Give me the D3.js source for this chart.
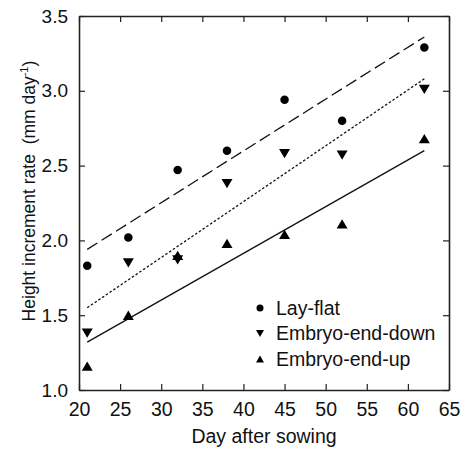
<!DOCTYPE html>
<html lang="en">
<head>
  <meta charset="UTF-8">
  <title>Height increment rate</title>
  <script src="https://d3js.org/d3.v7.min.js"></script>
  <style>
    body { margin: 0; background: #fff; }
    text { font-family: "Liberation Sans", Arial, sans-serif; fill: #111; }
  </style>
</head>
<body>
  <div id="chart"></div>
  <script>
    // data
    const days = [21, 26, 32, 38, 45, 52, 62];
    const layFlat = [1.83, 2.02, 2.47, 2.60, 2.94, 2.80, 3.29];
    const embryoDown = [1.38, 1.85, 1.87, 2.38, 2.58, 2.57, 3.01];
    const embryoUp = [1.16, 1.50, 1.90, 1.98, 2.04, 2.11, 2.68];
    // fitted lines (value at day 21 and day 62)
    const fitDays = [21, 62];
    const fitLayFlat = [1.94, 3.36];
    const fitDown = [1.55, 3.08];
    const fitUp = [1.32, 2.60];
    const xTicks = [20, 25, 30, 35, 40, 45, 50, 55, 60, 65];
    const yTicks = [1.0, 1.5, 2.0, 2.5, 3.0, 3.5];

    const width = 462, height = 451;
    const margin = { top: 16, right: 13, bottom: 61, left: 79 };

    const svg = d3.select("#chart").append("svg")
      .attr("width", width)
      .attr("height", height);

    const x = d3.scaleLinear().domain([20, 65]).range([margin.left, width - margin.right]);
    const y = d3.scaleLinear().domain([1.0, 3.5]).range([height - margin.bottom, margin.top]);

    // frame with inward ticks on all sides
    const axisStyle = g => {
      g.select(".domain").attr("stroke", "#222").attr("stroke-width", 1.6);
      g.selectAll(".tick line").attr("stroke", "#222").attr("stroke-width", 1.2);
    };

    svg.append("g")
      .attr("transform", `translate(0,${y(1.0)})`)
      .call(d3.axisBottom(x).tickValues(xTicks).tickSize(-6).tickPadding(12).tickSizeOuter(0))
      .call(axisStyle)
      .call(g => g.selectAll(".tick text").attr("font-size", 19.5).attr("dy", "0.71em"));

    svg.append("g")
      .attr("transform", `translate(0,${y(3.5)})`)
      .call(d3.axisTop(x).tickValues(xTicks).tickSize(-6).tickFormat("").tickSizeOuter(0))
      .call(axisStyle);

    svg.append("g")
      .attr("transform", `translate(${x(20)},0)`)
      .call(d3.axisLeft(y).tickValues(yTicks).tickSize(-6).tickPadding(11).tickFormat(d3.format(".1f")).tickSizeOuter(0))
      .call(axisStyle)
      .call(g => g.selectAll(".tick text").attr("font-size", 19));

    svg.append("g")
      .attr("transform", `translate(${x(65)},0)`)
      .call(d3.axisRight(y).tickValues(yTicks).tickSize(-6).tickFormat("").tickSizeOuter(0))
      .call(axisStyle);

    // fitted lines
    const series = [
      { name: "Lay-flat", vals: layFlat, fit: fitLayFlat, dash: "12,5", sym: d3.symbolCircle },
      { name: "Embryo-end-down", vals: embryoDown, fit: fitDown, dash: "2.5,2", sym: "down" },
      { name: "Embryo-end-up", vals: embryoUp, fit: fitUp, dash: null, sym: "up" }
    ];

    const line = d3.line().x(d => x(d[0])).y(d => y(d[1]));
    series.forEach(s => {
      svg.append("path")
        .attr("d", line(fitDays.map((d, i) => [d, s.fit[i]])))
        .attr("fill", "none")
        .attr("stroke", "#111")
        .attr("stroke-width", 1.3)
        .attr("stroke-dasharray", s.dash);
    });

    function marker(sym, size) {
      if (sym === "up" || sym === "down") {
        const h = size * 0.85, w = size / 2;
        return sym === "up"
          ? `M0,${-h / 2}L${w},${h / 2}L${-w},${h / 2}Z`
          : `M0,${h / 2}L${w},${-h / 2}L${-w},${-h / 2}Z`;
      }
      return d3.symbol(sym, Math.PI * (size / 2) * (size / 2))();
    }

    series.forEach(s => {
      svg.append("g").selectAll("path")
        .data(days.map((d, i) => [d, s.vals[i]]))
        .join("path")
        .attr("transform", d => `translate(${x(d[0])},${y(d[1])})`)
        .attr("d", marker(s.sym, s.sym === d3.symbolCircle ? 8.5 : 11))
        .attr("fill", "#000");
    });

    // legend
    const legend = svg.append("g").attr("transform", "translate(260,308)");
    series.forEach((s, i) => {
      const row = legend.append("g").attr("transform", `translate(0,${i * 25.5})`);
      row.append("path")
        .attr("d", marker(s.sym, s.sym === d3.symbolCircle ? 7 : 8))
        .attr("fill", "#000");
      row.append("text")
        .attr("x", 16)
        .attr("dy", "0.35em")
        .attr("font-size", 19.5)
        .text(s.name);
    });

    // axis titles
    svg.append("text")
      .attr("x", x(42.5))
      .attr("y", 443)
      .attr("text-anchor", "middle")
      .attr("font-size", 19.5)
      .text("Day after sowing");

    const yt = svg.append("text")
      .attr("transform", `translate(35,${y(2.33)}) rotate(-90)`)
      .attr("text-anchor", "middle")
      .attr("font-size", 17.5)
      .style("white-space", "pre");
    yt.append("tspan").text("Height increment rate  (mm day");
    yt.append("tspan").attr("font-size", 11).attr("dy", -7).text("-1");
    yt.append("tspan").attr("dy", 7).text(")");
  </script>
</body>
</html>
